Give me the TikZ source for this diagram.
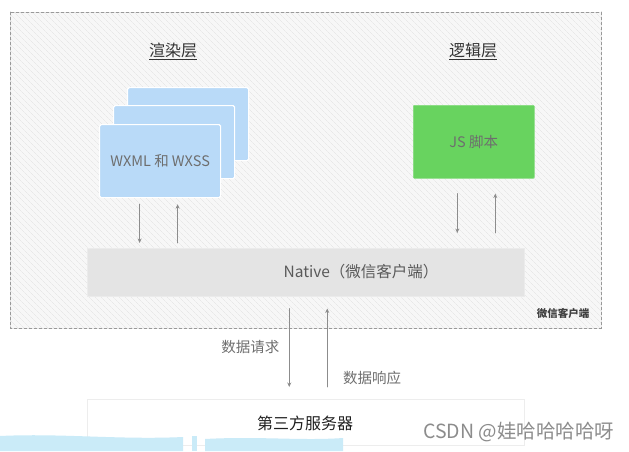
\documentclass[tikz,border=0pt]{standalone}
\usepackage{fontspec}
\setmainfont{Noto Sans CJK SC}
\usetikzlibrary{arrows.meta,patterns.meta}
\definecolor{cardblue}{HTML}{B9DAF8}
\definecolor{jsgreen}{HTML}{68D35F}
\definecolor{nativegray}{HTML}{E4E4E4}
\definecolor{brushcyan}{HTML}{CAEBF8}
\definecolor{inkgray}{HTML}{6E6E6E}

\begin{document}
\begin{tikzpicture}[x=1pt, y=-1pt, line cap=round,
    card/.style={draw=white, line width=1.2pt, fill=cardblue, rounded corners=1.5pt,
                 minimum width=121pt, minimum height=73pt, inner sep=0pt,
                 text=inkgray, font=\fontsize{14.5}{16}\selectfont},
    bar/.style={fill=nativegray, draw=white!92!black, line width=0.5pt,
                minimum width=437pt, minimum height=48pt, inner sep=0pt},
    title/.style={text=black!80, font=\fontsize{16}{18}\selectfont},
    flow/.style={draw=black!45, line width=0.9pt, -{Stealth[length=4.5pt,width=4pt]}},
    note/.style={text=inkgray, font=\fontsize{14.5}{16}\selectfont}]

  \useasboundingbox (0,0) rectangle (629,451);

  % ---- client frame: dashed, faintly hatched ---------------------------------
  \fill[black!3] (10,12) rectangle (601,328);
  \fill[pattern={Lines[angle=-45,distance=4pt,line width=0.4pt]}, pattern color=black!12]
    (10,12) rectangle (601,328);
  \draw[black!40, line width=0.8pt, dash pattern=on 3pt off 2pt] (10,12) rectangle (601,328);
  \node[text=black!75, font=\fontsize{10.5}{12}\selectfont\bfseries] (client) at (563,313) {微信客户端};

  % ---- layer titles ----------------------------------------------------------
  \node[title] (render) at (173,51) {\underline{渲染层}};
  \node[title] (logic)  at (473,51) {\underline{逻辑层}};

  % ---- view pages: three stacked cards ----------------------------------------
  \node[card, anchor=north west] (cardback) at (127,87)  {};
  \node[card, anchor=north west] (cardmid)  at (113,105) {};
  \node[card, anchor=north west] (wxml)     at (99,124)  {WXML 和 WXSS};

  % ---- logic script ----------------------------------------------------------
  \node[card, fill=jsgreen, draw=jsgreen!80!white, line width=0.6pt, rounded corners=1pt,
        anchor=north west] (js) at (413,105) {JS 脚本};

  % ---- native bar and server -------------------------------------------------
  \node[bar, anchor=north west] (native) at (87,248) {};
  \node[text=black!65, font=\fontsize{15.5}{17}\selectfont] (nativetxt) at (361,272) {Native（微信客户端）};
  \node[bar, fill=white, draw=black!7, line width=1pt, minimum height=46pt,
        anchor=north west] (server) at (87,399) {};
  \node[text=black!88, font=\fontsize{16}{18}\selectfont] (servertxt) at (305,423) {第三方服务器};

  % ---- connectors ------------------------------------------------------------
  \draw[flow, shorten <=6pt, shorten >=5pt]
    ([xshift=-20.5pt]wxml.south) -- ([xshift=-20.5pt]wxml.south |- native.north);
  \draw[flow, shorten <=5pt, shorten >=6pt]
    ([xshift=17.5pt]wxml.south |- native.north) -- ([xshift=17.5pt]wxml.south);
  \draw[flow, shorten <=15pt, shorten >=15pt]
    ([xshift=-16.5pt]js.south) -- ([xshift=-16.5pt]js.south |- native.north);
  \draw[flow, shorten <=15pt, shorten >=15pt]
    ([xshift=21.5pt]js.south |- native.north) -- ([xshift=21.5pt]js.south);
  \draw[flow, shorten <=12pt, shorten >=12pt]
    ([xshift=-16.5pt]native.south) -- node[note, pos=0.49, left=6pt] (req) {数据请求}
    ([xshift=-16.5pt]native.south |- server.north);
  \draw[flow, shorten <=12pt, shorten >=12pt]
    ([xshift=21.5pt]native.south |- server.north) -- node[note, pos=0.21, right=12pt] (resp) {数据响应}
    ([xshift=21.5pt]native.south);

  % ---- brush marks along the lower edge ---------------------------------------
  \fill[brushcyan] (0,436) .. controls (60,433) and (120,440) .. (183,437) -- (183,451) -- (0,451) -- cycle;
  \fill[brushcyan] (192,436) rectangle (197,451);
  \fill[brushcyan] (205,439) .. controls (260,436) and (300,441) .. (343,438) -- (343,451) -- (205,451) -- cycle;

  % ---- watermark -------------------------------------------------------------
  \node[text=black!45, font=\fontsize{19.5}{21}\selectfont, anchor=west, inner sep=0pt] (mark) at (423,432) {CSDN @娃哈哈哈哈呀};
\end{tikzpicture}
\end{document}
